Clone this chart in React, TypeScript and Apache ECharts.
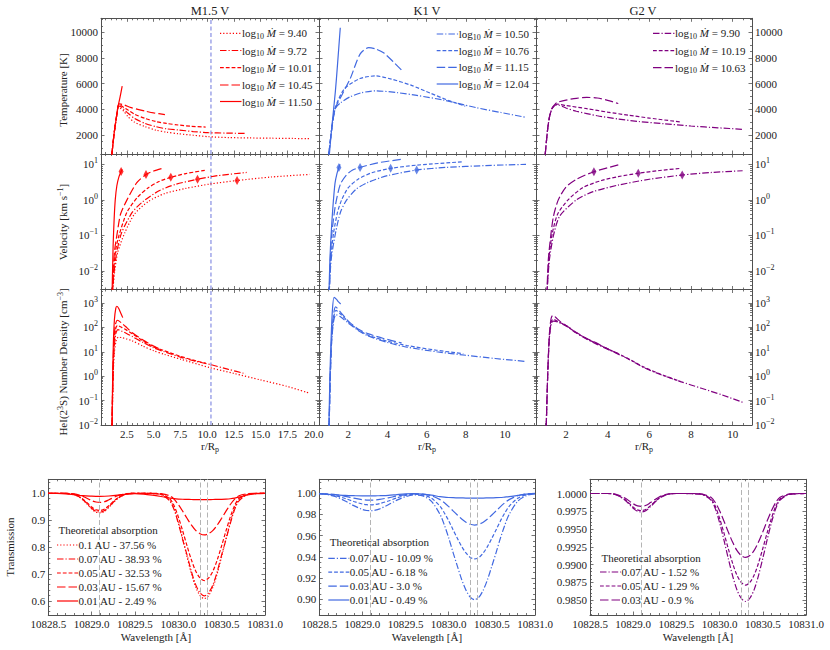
import React, { useEffect, useRef } from "react";
import * as echarts from "echarts";

type Pt = [number, number];

const FONT = "Liberation Serif, DejaVu Serif, serif";
const TXT = "#222222";
const FRAME = "#505050";
const RED = "#ff0000";
const BLUE = "#4169e1";
const PURPLE = "#800080";
const ROCHE_COLOR = "#5560d8";

// ---------- labels / styles ----------
const mLogMdot = ["9.40", "9.72", "10.01", "10.45", "11.50"];
const kLogMdot = ["10.50", "10.76", "11.15", "12.04"];
const gLogMdot = ["9.90", "10.19", "10.63"];
const mStyles = ["dotted", "dashdot", "dashed", "longdash", "solid"];
const kStyles = ["dashdot", "dashed", "longdash", "solid"];
const gStyles = ["dashdot", "dashed", "longdash"];

// ---------- M1.5 V ----------
const tempM940: Pt[] = [[1.08, 450], [1.25, 1800], [1.38, 2650], [1.55, 3600], [1.67, 4200], [1.8, 4150], [2.2, 3850], [2.6, 3420], [3.2, 3000], [4.2, 2650], [5.2, 2380], [6.2, 2220], [7.3, 2100], [8.7, 1980], [10.1, 1870], [12, 1800], [14, 1770], [16, 1750], [18, 1730], [19.6, 1710]];
const tempM972: Pt[] = [[1.08, 450], [1.25, 1800], [1.38, 2650], [1.55, 3600], [1.68, 4250], [1.8, 4250], [2.2, 4000], [2.6, 3700], [3.2, 3300], [4.2, 2900], [5.2, 2650], [6.2, 2480], [7.3, 2390], [8.7, 2270], [10.1, 2180], [11.8, 2150], [13.7, 2120]];
const tempM1001: Pt[] = [[1.08, 450], [1.25, 1800], [1.38, 2650], [1.55, 3600], [1.69, 4300], [1.8, 4330], [2.2, 4150], [2.6, 3940], [3.2, 3620], [4.2, 3290], [5.2, 3050], [6.2, 2900], [7.3, 2780], [8.5, 2680], [9.86, 2620]];
const tempM1045: Pt[] = [[1.08, 450], [1.25, 1800], [1.38, 2650], [1.55, 3600], [1.69, 4330], [1.8, 4420], [2.2, 4350], [2.9, 4130], [3.6, 3980], [4.2, 3860], [5.0, 3720], [6.05, 3590]];
const tempM1150: Pt[] = [[1.08, 450], [1.25, 1800], [1.38, 2650], [1.55, 3600], [1.69, 4330], [1.85, 4950], [2.05, 5800]];

const velM940: Pt[] = [[1.12, 0.002], [1.35, 0.01], [1.65, 0.035], [2.3, 0.12], [3.2, 0.4], [4.5, 0.9], [6.0, 1.5], [8.0, 2.1], [10.3, 2.8], [12.8, 3.5], [16, 4.4], [19.6, 5.2]];
const velM972: Pt[] = [[1.12, 0.002], [1.3, 0.01], [1.55, 0.035], [2.0, 0.12], [3.0, 0.45], [4.0, 0.9], [5.5, 1.8], [7.0, 2.7], [9.1, 3.8], [11, 4.8], [13.7, 5.9]];
const velM1001: Pt[] = [[1.12, 0.002], [1.25, 0.01], [1.45, 0.04], [1.75, 0.1], [2.5, 0.45], [3.5, 1.2], [4.5, 2.2], [5.5, 3.3], [6.6, 4.3], [8.0, 5.5], [9.86, 6.8]];
const velM1045: Pt[] = [[1.12, 0.002], [1.2, 0.01], [1.35, 0.04], [1.55, 0.1], [1.9, 0.4], [2.5, 1.0], [3.4, 3.0], [4.28, 5.2], [5.0, 6.5], [5.75, 7.6]];
const velM1150: Pt[] = [[1.1, 0.002], [1.2, 0.05], [1.3, 0.3], [1.4, 1.0], [1.55, 2.5], [1.75, 4.5], [1.95, 6.3], [2.05, 7.2]];

const densM940: Pt[] = [[1.1, 0.008], [1.19, 0.5], [1.3, 8], [1.5, 30], [1.7, 40], [2, 38], [2.5, 33], [3, 28], [4, 17], [5, 11], [6, 7.8], [7.5, 5], [10.3, 2.2], [12.5, 1.3], [15, 0.7], [17.5, 0.38], [19.6, 0.2]];
const densM972: Pt[] = [[1.1, 0.008], [1.18, 0.5], [1.28, 10], [1.45, 55], [1.65, 80], [2, 70], [2.5, 55], [3, 42], [4, 24], [5, 14.5], [6, 10], [7.5, 6], [9, 4], [10.3, 3], [12, 1.9], [13.6, 1.25]];
const densM1001: Pt[] = [[1.1, 0.008], [1.17, 0.5], [1.27, 12], [1.42, 80], [1.6, 120], [2, 100], [2.5, 75], [3, 55], [4, 28], [5, 16], [6, 11], [7.5, 6.5], [9, 4.2], [9.86, 3.4]];
const densM1045: Pt[] = [[1.1, 0.008], [1.16, 0.5], [1.25, 15], [1.4, 120], [1.6, 195], [2.0, 150], [2.5, 95], [3, 60], [4, 30], [5, 17], [5.75, 12]];
const densM1150: Pt[] = [[1.1, 0.008], [1.15, 0.5], [1.22, 20], [1.32, 200], [1.45, 600], [1.55, 730], [1.7, 620], [1.9, 400], [2.1, 250]];

const sonicM: Pt[] = [[12.8, 3.5], [9.1, 3.8], [6.6, 4.3], [4.28, 5.2], [1.95, 6.3]];
const rocheM = 10.36;

// ---------- K1 V ----------
const tempK1050: Pt[] = [[1.0, 450], [1.1, 1800], [1.2, 3000], [1.35, 4100], [1.6, 4500], [2.1, 4980], [2.7, 5300], [3.4, 5440], [4.5, 5300], [5.5, 5080], [6.86, 4720], [8.56, 4120], [9.8, 3750], [11.08, 3370]];
const tempK1076: Pt[] = [[1.0, 450], [1.1, 1800], [1.2, 3000], [1.35, 4200], [1.8, 5600], [2.6, 6400], [3.4, 6600], [4.2, 6350], [5.2, 5880], [6.2, 5250], [7.1, 4700], [7.97, 4250]];
const tempK1115: Pt[] = [[1.0, 450], [1.1, 1800], [1.2, 3000], [1.34, 4100], [1.7, 5200], [2.1, 6400], [2.6, 8300], [3.04, 8800], [3.4, 8700], [3.8, 8400], [4.3, 7700], [4.72, 7050]];
const tempK1204: Pt[] = [[1.03, 450], [1.15, 2500], [1.34, 5400], [1.45, 7500], [1.59, 10350]];

const velK1050: Pt[] = [[1.02, 0.002], [1.12, 0.02], [1.35, 0.12], [1.6, 0.45], [1.92, 1], [2.4, 2], [3, 3.1], [4, 4.8], [5.49, 6.9], [7, 8.2], [9, 9.2], [11.07, 10]];
const velK1076: Pt[] = [[1.02, 0.002], [1.1, 0.02], [1.25, 0.12], [1.45, 0.45], [1.66, 1], [2, 2.2], [2.5, 3.8], [3.2, 5.8], [4.16, 7.7], [5.5, 9.5], [7.87, 11.8]];
const velK1115: Pt[] = [[1.02, 0.002], [1.08, 0.02], [1.15, 0.1], [1.3, 0.5], [1.41, 1.1], [1.6, 2.8], [1.9, 5], [2.2, 6.8], [2.6, 8.2], [3.5, 11], [4.72, 13.8]];
const velK1204: Pt[] = [[1.01, 0.002], [1.06, 0.02], [1.12, 0.1], [1.2, 0.5], [1.32, 2.9], [1.42, 5.5], [1.52, 8.2], [1.58, 10]];

const densK1050: Pt[] = [[1.02, 0.008], [1.08, 1], [1.15, 25], [1.25, 180], [1.37, 330], [1.6, 270], [2, 150], [2.5, 75], [3, 45], [4, 24], [5, 15.5], [6.5, 10], [8, 7.2], [9.5, 5.3], [11.07, 4]];
const densK1076: Pt[] = [[1.02, 0.008], [1.08, 1], [1.15, 30], [1.25, 250], [1.37, 500], [1.6, 350], [2, 170], [2.5, 80], [3, 48], [4, 27], [5, 18], [6.5, 11.5], [7.87, 8.3]];
const densK1115: Pt[] = [[1.02, 0.008], [1.08, 1], [1.15, 40], [1.25, 350], [1.35, 690], [1.6, 420], [2.0, 180], [2.5, 85], [3, 55], [3.8, 35], [4.72, 23]];
const densK1204: Pt[] = [[1.01, 0.008], [1.06, 1], [1.12, 30], [1.18, 400], [1.27, 1700], [1.4, 1400], [1.5, 1100], [1.61, 900]];

const sonicK: Pt[] = [[5.49, 6.9], [4.16, 7.7], [2.6, 8.2], [1.52, 8.2]];

// ---------- G2 V ----------
const tempG990: Pt[] = [[1.0, 450], [1.06, 1500], [1.13, 2600], [1.22, 3500], [1.33, 4050], [1.5, 4330], [1.6, 4350], [2, 4100], [2.5, 3850], [3.5, 3500], [4.5, 3250], [5.5, 3050], [6.7, 2880], [8, 2700], [9.3, 2560], [10.5, 2440]];
const tempG1019: Pt[] = [[1.0, 450], [1.06, 1500], [1.13, 2600], [1.22, 3500], [1.33, 4050], [1.5, 4380], [1.6, 4400], [2, 4300], [3, 4050], [4, 3780], [5, 3540], [6, 3320], [7.5, 3010]];
const tempG1063: Pt[] = [[1.0, 450], [1.06, 1500], [1.13, 2600], [1.22, 3500], [1.33, 4100], [1.5, 4450], [1.6, 4550], [2.0, 4720], [2.5, 4860], [3.0, 4930], [3.5, 4880], [4.0, 4700], [4.51, 4450]];

const velG990: Pt[] = [[1.08, 0.002], [1.2, 0.02], [1.4, 0.1], [1.7, 0.35], [2.5, 1], [3.3, 1.7], [4.5, 2.6], [6, 3.8], [7.58, 5.0], [9, 5.9], [10.48, 6.6]];
const velG1019: Pt[] = [[1.08, 0.002], [1.2, 0.03], [1.35, 0.12], [1.6, 0.4], [2.1, 1], [2.8, 2.2], [3.7, 3.5], [4.5, 4.5], [5.47, 5.6], [6.5, 6.7], [7.5, 7.7]];
const velG1063: Pt[] = [[1.08, 0.002], [1.15, 0.02], [1.27, 0.1], [1.4, 0.35], [1.63, 1], [2, 2.3], [2.5, 3.8], [3.34, 6.2], [4.51, 9.6]];

const densG990: Pt[] = [[1.05, 0.008], [1.12, 1], [1.2, 35], [1.3, 150], [1.4, 180], [1.6, 165], [2, 115], [2.5, 58], [3, 33], [3.5, 20], [4.11, 11.5], [5, 5], [5.71, 2.3], [6.5, 1.2], [7.5, 0.6], [8.5, 0.32], [9.5, 0.17], [10.48, 0.085]];
const densG1019: Pt[] = [[1.05, 0.008], [1.12, 1], [1.2, 40], [1.3, 180], [1.4, 210], [1.6, 175], [2, 118], [2.5, 60], [3, 34], [3.5, 21], [4.11, 12], [5, 5.2], [5.71, 2.4], [6.5, 1.25], [7.5, 0.6]];
const densG1063: Pt[] = [[1.05, 0.008], [1.12, 1], [1.2, 50], [1.28, 220], [1.36, 310], [1.5, 260], [1.7, 180], [2, 120], [2.5, 62], [3, 35], [3.5, 22], [4, 13], [4.51, 8.5]];

const sonicG: Pt[] = [[7.58, 5.0], [5.47, 5.6], [3.34, 6.2]];

// ---------- transmission spectra ----------
const wl = [10828.5, 10828.6, 10828.7, 10828.8, 10828.9, 10829.0, 10829.05, 10829.1, 10829.15, 10829.2, 10829.3, 10829.4, 10829.5, 10829.6, 10829.7, 10829.8, 10829.9, 10829.95, 10830.0, 10830.05, 10830.1, 10830.15, 10830.2, 10830.25, 10830.3, 10830.35, 10830.4, 10830.45, 10830.5, 10830.55, 10830.6, 10830.65, 10830.7, 10830.8, 10830.9, 10831.0];
const heLines = [10829.09, 10830.25, 10830.33];

const trM010 = [1.0, 1.0, 0.9995, 0.9953, 0.9752, 0.9416, 0.9299, 0.9271, 0.9328, 0.9482, 0.9803, 0.9971, 0.9997, 1.0, 0.9992, 0.9961, 0.9765, 0.9451, 0.8942, 0.8314, 0.7648, 0.7021, 0.6511, 0.6198, 0.608, 0.6198, 0.6511, 0.7021, 0.7648, 0.8314, 0.8942, 0.9451, 0.9765, 0.9961, 0.9992, 1.0];
const trM007 = [1.0, 1.0, 0.9995, 0.9955, 0.9762, 0.944, 0.9328, 0.9301, 0.9356, 0.9503, 0.9811, 0.9972, 0.9997, 1.0, 0.999, 0.9955, 0.972, 0.94, 0.888, 0.828, 0.7708, 0.7097, 0.66, 0.6295, 0.618, 0.6295, 0.66, 0.7097, 0.7708, 0.828, 0.888, 0.94, 0.972, 0.9955, 0.999, 1.0];
const trM005 = [1.0, 1.0, 0.9996, 0.9958, 0.9782, 0.9488, 0.9386, 0.9361, 0.9411, 0.9546, 0.9827, 0.9974, 0.9997, 1.0, 0.9994, 0.9968, 0.9805, 0.9545, 0.9123, 0.8603, 0.805, 0.753, 0.7108, 0.6848, 0.675, 0.6848, 0.7108, 0.753, 0.805, 0.8603, 0.9123, 0.9545, 0.9805, 0.9968, 0.9994, 1.0];
const trM003 = [1.0, 1.0, 0.9998, 0.9978, 0.9884, 0.9728, 0.9674, 0.9661, 0.9687, 0.9759, 0.9908, 0.9986, 0.9999, 1.0, 0.9997, 0.9985, 0.9907, 0.9783, 0.9582, 0.9334, 0.907, 0.8822, 0.862, 0.8497, 0.845, 0.8497, 0.862, 0.8822, 0.907, 0.9334, 0.9582, 0.9783, 0.9907, 0.9985, 0.9997, 1.0];
const trM001 = [1.0, 0.9995, 0.998, 0.9945, 0.991, 0.9893, 0.9888, 0.9887, 0.989, 0.9898, 0.993, 0.997, 0.999, 0.997, 0.993, 0.988, 0.9825, 0.98, 0.9785, 0.9777, 0.9772, 0.9768, 0.9766, 0.9765, 0.9765, 0.9766, 0.9768, 0.9771, 0.9776, 0.9784, 0.9797, 0.982, 0.9855, 0.9935, 0.9985, 0.9998];

const trK007 = [0.9996, 0.9986, 0.9965, 0.9927, 0.9883, 0.9847, 0.9837, 0.9835, 0.984, 0.9853, 0.9891, 0.9935, 0.9968, 0.9984, 0.9975, 0.9924, 0.9799, 0.9699, 0.9578, 0.9442, 0.9312, 0.9186, 0.9085, 0.9018, 0.8995, 0.9018, 0.9085, 0.9186, 0.9312, 0.9442, 0.9578, 0.9699, 0.9799, 0.9925, 0.9978, 0.9995];
const trK005 = [0.9997, 0.9991, 0.9976, 0.9951, 0.9922, 0.9898, 0.9892, 0.989, 0.9894, 0.9902, 0.9927, 0.9957, 0.9979, 0.999, 0.9984, 0.9953, 0.9876, 0.9814, 0.974, 0.9656, 0.9575, 0.9498, 0.9436, 0.9394, 0.938, 0.9394, 0.9436, 0.9498, 0.9575, 0.9656, 0.974, 0.9814, 0.9876, 0.9953, 0.9986, 0.9997];
const trK003 = [0.9998, 0.9994, 0.9986, 0.9971, 0.9954, 0.994, 0.9936, 0.9935, 0.9937, 0.9942, 0.9957, 0.9974, 0.9988, 0.9994, 0.9992, 0.9977, 0.994, 0.991, 0.9874, 0.9834, 0.9795, 0.9757, 0.9727, 0.9707, 0.97, 0.9707, 0.9727, 0.9757, 0.9795, 0.9834, 0.9874, 0.991, 0.994, 0.9977, 0.9993, 0.9999];
const trK001 = [0.9995, 0.999, 0.9985, 0.998, 0.9977, 0.9975, 0.9975, 0.9975, 0.9976, 0.9977, 0.998, 0.9988, 0.9995, 0.9997, 0.9992, 0.9982, 0.9968, 0.9963, 0.996, 0.9958, 0.9957, 0.9956, 0.9955, 0.9955, 0.9955, 0.9955, 0.9955, 0.9956, 0.9957, 0.9958, 0.996, 0.9964, 0.9968, 0.998, 0.9992, 0.9998];

const trG007 = [1.0, 1.0, 1.0, 0.99983, 0.99912, 0.99792, 0.9975, 0.99741, 0.99761, 0.99815, 0.9993, 0.9999, 1.0, 1.0, 0.99997, 0.99985, 0.99909, 0.99787, 0.9959, 0.99346, 0.99088, 0.98845, 0.98647, 0.98526, 0.9848, 0.98526, 0.98647, 0.98845, 0.99088, 0.99346, 0.9959, 0.99787, 0.99909, 0.99985, 0.99997, 1.0];
const trG005 = [1.0, 1.0, 1.0, 0.99984, 0.99918, 0.99808, 0.9977, 0.9976, 0.99779, 0.9983, 0.99935, 0.9999, 1.0, 1.0, 0.99997, 0.99987, 0.99923, 0.9982, 0.99652, 0.99445, 0.99226, 0.9902, 0.98852, 0.98749, 0.9871, 0.98749, 0.98852, 0.9902, 0.99226, 0.99445, 0.99652, 0.9982, 0.99923, 0.99987, 0.99997, 1.0];
const trG003 = [1.0, 1.0, 1.0, 0.99988, 0.99939, 0.99856, 0.99827, 0.9982, 0.99834, 0.99872, 0.99951, 0.99993, 1.0, 1.0, 1.0, 0.99991, 0.99946, 0.99874, 0.99757, 0.99613, 0.9946, 0.99316, 0.99199, 0.99127, 0.991, 0.99127, 0.99199, 0.99316, 0.9946, 0.99613, 0.99757, 0.99874, 0.99946, 0.99991, 1.0, 1.0];

const auM = ["0.1", "0.07", "0.05", "0.03", "0.01"];
const absM = ["37.56", "38.93", "32.53", "15.67", "2.49"];
const auK = ["0.07", "0.05", "0.03", "0.01"];
const absK = ["10.09", "6.18", "3.0", "0.49"];
const auG = ["0.07", "0.05", "0.03"];
const absG = ["1.52", "1.29", "0.9"];

// ---------- helpers ----------
const DASH: Record<string, any> = {
  solid: "solid",
  dotted: [1.2, 2],
  dashdot: [6.5, 2, 1.2, 2],
  dashed: [3.8, 2],
  longdash: [8.5, 3],
};

const range = (a: number, b: number, s: number) => {
  const n = Math.round((b - a) / s);
  return Array.from({ length: n + 1 }, (_, i) => +(a + i * s).toFixed(8));
};
const minorOf = (all: number[], maj: number[]) => all.filter((v) => !maj.some((m) => Math.abs(m - v) < 1e-7));
const within = (arr: number[], lo: number, hi: number) => arr.filter((v) => v >= lo - 1e-9 && v <= hi + 1e-9);
const logMinors = (lo: number, hi: number) => {
  const out: number[] = [];
  for (let n = -4; n <= 4; n++) for (let k = 2; k <= 9; k++) out.push(n + Math.log10(k));
  return within(out, lo, hi);
};

function buildOption() {
  const o: any = { animation: false, tooltip: { show: false }, grid: [], xAxis: [], yAxis: [], series: [], graphic: [] };

  const logRich = {
    b: { fontFamily: FONT, fontSize: 11, color: TXT, lineHeight: 15 },
    s: { fontFamily: FONT, fontSize: 8, color: TXT, lineHeight: 8, verticalAlign: "top" },
  };
  const logFmt = (v: number) => {
    const r = Math.round(v);
    return `{b|10}{s|${r < 0 ? "\u2212" + Math.abs(r) : String(r)}}`;
  };

  const mkLabel = (fmt: any, rich: any, margin: number, vals: number[]) => ({
    show: true,
    customValues: vals,
    formatter: fmt,
    rich,
    fontFamily: FONT,
    fontSize: 11,
    color: TXT,
    margin,
  });

  function addPanel(p: any) {
    const gi = o.grid.length;
    o.grid.push({ left: p.left, top: p.top, width: p.width, height: p.height, containLabel: false, outerBoundsMode: "none", show: false });
    const ax = (pos: string, min: number, max: number, ticks: number[], len: number, line: boolean, label: any) => ({
      type: "value",
      gridIndex: gi,
      position: pos,
      min,
      max,
      silent: true,
      axisLine: { show: line, onZero: false, lineStyle: { color: FRAME, width: 1 } },
      axisTick: { show: true, inside: true, length: len, customValues: ticks, lineStyle: { color: FRAME, width: 0.8 } },
      axisLabel: label || { show: false },
      splitLine: { show: false },
      splitArea: { show: false },
      axisPointer: { show: false },
    });
    const xMaj = within(p.xMaj, p.xmin, p.xmax);
    const xMin = within(p.xMin, p.xmin, p.xmax);
    const yMaj = within(p.yMaj, p.ymin, p.ymax);
    const yMin = within(p.yMin, p.ymin, p.ymax);
    const xi = o.xAxis.length;
    o.xAxis.push(ax("bottom", p.xmin, p.xmax, xMaj, 3.5, true, p.xFmt ? mkLabel(p.xFmt, undefined, 3, xMaj) : null));
    o.xAxis.push(ax("bottom", p.xmin, p.xmax, xMin, 2, false, null));
    o.xAxis.push(ax("top", p.xmin, p.xmax, xMaj, 3.5, true, null));
    o.xAxis.push(ax("top", p.xmin, p.xmax, xMin, 2, false, null));
    const yi = o.yAxis.length;
    o.yAxis.push(ax("left", p.ymin, p.ymax, yMaj, 3.5, true, p.ySide === "left" ? mkLabel(p.yFmt, p.yRich, 3, yMaj) : null));
    o.yAxis.push(ax("left", p.ymin, p.ymax, yMin, 2, false, null));
    o.yAxis.push(ax("right", p.ymin, p.ymax, yMaj, 3.5, true, p.ySide === "right" ? mkLabel(p.yFmt, p.yRich, 3, yMaj) : null));
    o.yAxis.push(ax("right", p.ymin, p.ymax, yMin, 2, false, null));
    return { xi, yi };
  }

  const lineSeries = (name: string, data: number[][], color: string, sty: string, xi: number, yi: number) => ({
    type: "line",
    name,
    xAxisIndex: xi,
    yAxisIndex: yi,
    data,
    symbol: "none",
    showSymbol: false,
    smooth: 0.25,
    clip: true,
    silent: true,
    z: 3,
    lineStyle: { color, width: 1.2, type: DASH[sty], cap: "butt" },
    itemStyle: { color },
    emphasis: { disabled: true },
  });

  // ---- top grid ----
  const topCols = [
    { left: 101, width: 218, xmin: 0.067, xmax: 20.47, xMaj: range(2.5, 20, 2.5), xFmt: (v: number) => v.toFixed(1), ySide: "left" },
    { left: 319, width: 217, xmin: 0.504, xmax: 11.58, xMaj: [2, 4, 6, 8, 10], xFmt: (v: number) => String(Math.round(v)), ySide: "none" },
    { left: 536, width: 216, xmin: 0.56, xmax: 10.93, xMaj: [2, 4, 6, 8, 10], xFmt: (v: number) => String(Math.round(v)), ySide: "right" },
  ];
  const tempMaj = [2000, 4000, 6000, 8000, 10000];
  const topRows = [
    { top: 18.3, height: 135.7, ymin: 520, ymax: 11090, yMaj: tempMaj, yMin: minorOf(range(500, 11000, 500), tempMaj), yFmt: (v: number) => String(Math.round(v)), yRich: undefined, log: false },
    { top: 154, height: 135.5, ymin: -2.52, ymax: 1.29, yMaj: [-2, -1, 0, 1], yMin: logMinors(-2.52, 1.29), yFmt: logFmt, yRich: logRich, log: true },
    { top: 289.5, height: 135.5, ymin: -2, ymax: 3.55, yMaj: [-2, -1, 0, 1, 2, 3], yMin: logMinors(-2, 3.55), yFmt: logFmt, yRich: logRich, log: true },
  ];
  const groups = [
    { labels: mLogMdot, styles: mStyles, color: RED, rows: [[tempM940, tempM972, tempM1001, tempM1045, tempM1150], [velM940, velM972, velM1001, velM1045, velM1150], [densM940, densM972, densM1001, densM1045, densM1150]], sonic: sonicM },
    { labels: kLogMdot, styles: kStyles, color: BLUE, rows: [[tempK1050, tempK1076, tempK1115, tempK1204], [velK1050, velK1076, velK1115, velK1204], [densK1050, densK1076, densK1115, densK1204]], sonic: sonicK },
    { labels: gLogMdot, styles: gStyles, color: PURPLE, rows: [[tempG990, tempG1019, tempG1063], [velG990, velG1019, velG1063], [densG990, densG1019, densG1063]], sonic: sonicG },
  ];

  groups.forEach((g, c) => {
    const col = topCols[c];
    topRows.forEach((r, ri) => {
      const { xi, yi } = addPanel({
        left: col.left, width: col.width, top: r.top, height: r.height,
        xmin: col.xmin, xmax: col.xmax, xMaj: col.xMaj, xMin: minorOf(range(0.5, 20.5, 0.5), col.xMaj),
        xFmt: ri === 2 ? col.xFmt : null,
        ymin: r.ymin, ymax: r.ymax, yMaj: r.yMaj, yMin: r.yMin, yFmt: r.yFmt, yRich: r.yRich, ySide: col.ySide,
      });
      g.rows[ri].forEach((pts, k) => {
        const data = pts.map(([x, y]) => [x, r.log ? Math.log10(y) : y]);
        o.series.push(lineSeries("log10 Mdot = " + g.labels[k], data, g.color, g.styles[k], xi, yi));
      });
      if (c === 0) {
        // Roche-lobe marker: vertical dashed line spanning the panel
        o.series.push({
          type: "line", name: "roche", xAxisIndex: xi, yAxisIndex: yi, silent: true, z: 2,
          symbol: "none", showSymbol: false, clip: true,
          lineStyle: { color: ROCHE_COLOR, width: 1, type: [4, 2.5], opacity: 0.85 },
          data: [[rocheM, r.ymin], [rocheM, r.ymax]],
          emphasis: { disabled: true },
        });
      }
      if (ri === 1) {
        o.series.push({
          type: "scatter", xAxisIndex: xi, yAxisIndex: yi, silent: true, z: 4,
          symbol: "diamond", symbolSize: [5, 9], itemStyle: { color: g.color },
          data: g.sonic.map(([x, y]) => [x, Math.log10(y)]),
        });
      }
    });
  });

  // ---- bottom grid ----
  const botX = range(10828.5, 10831, 0.5);
  const botXMin = minorOf(range(10828.5, 10831, 0.1), botX);
  const botCols = [
    { left: 48.3, width: 216.7, ymin: 0.547, ymax: 1.052, yMaj: range(0.6, 1.0, 0.1), yStep: 0.02, yFrom: 0.56, yTo: 1.04, yFmt: (v: number) => v.toFixed(1) },
    { left: 319.3, width: 215.7, ymin: 0.885, ymax: 1.0132, yMaj: range(0.9, 1.0, 0.02), yStep: 0.005, yFrom: 0.885, yTo: 1.01, yFmt: (v: number) => v.toFixed(2) },
    { left: 590, width: 216, ymin: 0.9829, ymax: 1.002, yMaj: range(0.985, 1.0, 0.0025), yStep: 0.0005, yFrom: 0.983, yTo: 1.002, yFmt: (v: number) => v.toFixed(4) },
  ];
  const botGroups = [
    { color: RED, styles: mStyles, curves: [trM010, trM007, trM005, trM003, trM001], au: auM, abs: absM },
    { color: BLUE, styles: kStyles, curves: [trK007, trK005, trK003, trK001], au: auK, abs: absK },
    { color: PURPLE, styles: gStyles, curves: [trG007, trG005, trG003], au: auG, abs: absG },
  ];
  botGroups.forEach((g, c) => {
    const col = botCols[c];
    const { xi, yi } = addPanel({
      left: col.left, width: col.width, top: 479.3, height: 135.7,
      xmin: 10828.5, xmax: 10831.0, xMaj: botX, xMin: botXMin, xFmt: (v: number) => v.toFixed(1),
      ymin: col.ymin, ymax: col.ymax, yMaj: col.yMaj, yMin: minorOf(range(col.yFrom, col.yTo, col.yStep), col.yMaj), yFmt: col.yFmt, ySide: "left",
    });
    g.curves.forEach((vals, k) => {
      const s: any = lineSeries(g.au[k] + " AU", wl.map((w, i) => [w, vals[i]]), g.color, g.styles[k], xi, yi);
      s.smooth = 0.3;
      s.z = 3 + (g.curves.length - k) * 0.01;
      if (k === 0) {
        s.markLine = {
          silent: true, symbol: ["none", "none"], label: { show: false }, animation: false,
          lineStyle: { color: "#b4b4b4", type: [5, 2.5], width: 1 },
          emphasis: { disabled: true },
          data: heLines.map((x) => ({ xAxis: x })),
        };
      }
      o.series.push(s);
    });
  });

  // ---- graphic texts / legends ----
  const G: any[] = o.graphic;
  const baseRich = {
    n: { fontFamily: FONT, fontSize: 11, fill: TXT, lineHeight: 14 },
    s: { fontFamily: FONT, fontSize: 8, fill: TXT, lineHeight: 8, verticalAlign: "top" },
    u: { fontFamily: FONT, fontSize: 8, fill: TXT, lineHeight: 8, verticalAlign: "bottom" },
    m: { fontFamily: FONT, fontSize: 11, fill: TXT, lineHeight: 14, fontStyle: "italic" },
    t: { fontFamily: FONT, fontSize: 12.5, fill: TXT, lineHeight: 15 },
  };
  const text = (x: number, y: number, t: string, extra: any = {}) =>
    G.push({
      type: "text", x, y, silent: true, rotation: extra.rotation || 0, z: 100,
      style: { text: t, rich: baseRich, fill: TXT, fontFamily: FONT, fontSize: extra.fontSize || 11, align: extra.align || "center", verticalAlign: "middle" },
    });
  const legLine = (x1: number, x2: number, y: number, color: string, sty: string) =>
    G.push({
      type: "line", silent: true, z: 100,
      shape: { x1, y1: y, x2, y2: y },
      style: { stroke: color, lineWidth: 1.2, lineDash: sty === "solid" ? null : DASH[sty], lineCap: "butt" },
    });

  // titles
  text(210, 10.5, "{t|M1.5 V}");
  text(427, 10.5, "{t|K1 V}");
  text(643, 10.5, "{t|G2 V}");
  // y labels
  text(63, 90, "{n|Temperature [K]}", { rotation: Math.PI / 2 });
  text(63, 222, "{n|Velocity [km s}{s|\u22121}{n|]}", { rotation: Math.PI / 2 });
  text(63, 362, "{n|HeI(2}{s|3}{n|S) Number Density [cm}{s|\u22123}{n|]}", { rotation: Math.PI / 2 });
  text(10, 547, "{n|Transmission}", { rotation: Math.PI / 2 });
  // x labels
  [210, 427, 644].forEach((x) => text(x, 446, "{n|r/R}{u|p}"));
  [156, 427, 698].forEach((x) => text(x, 637, "{n|Wavelength [\u00c5]}"));

  // top legends
  const topLeg = [
    { x1: 220, rows: [33.3, 50.5, 67.7, 85, 101.5] },
    { x1: 436.7, rows: [34, 50.7, 67.3, 84] },
    { x1: 653, rows: [33.3, 50.7, 67.7] },
  ];
  groups.forEach((g, c) => {
    const L = topLeg[c];
    g.labels.forEach((lab, k) => {
      legLine(L.x1, L.x1 + 21.5, L.rows[k], g.color, g.styles[k]);
      text(L.x1 + 22, L.rows[k], `{n|log}{u|10}{m| \u1e40}{n| = ${lab}}`, { align: "left" });
    });
  });
  // bottom legends
  const botLeg = [
    { x1: 57, title: 530, rows: [545, 559, 573, 587, 601] },
    { x1: 328.3, title: 542, rows: [558.3, 572.2, 586.1, 600] },
    { x1: 600, title: 558, rows: [572, 586, 600] },
  ];
  botGroups.forEach((g, c) => {
    const L = botLeg[c];
    text(L.x1 + 1.5, L.title, "{n|Theoretical absorption}", { align: "left" });
    g.au.forEach((au, k) => {
      legLine(L.x1, L.x1 + 21, L.rows[k], g.color, g.styles[k]);
      text(L.x1 + 21.5, L.rows[k], `{n|${au} AU - ${g.abs[k]} %}`, { align: "left" });
    });
  });

  return o;
}

export default function App() {
  const ref = useRef<HTMLDivElement>(null);
  useEffect(() => {
    document.body.style.margin = "0";
    const chart = echarts.init(ref.current as HTMLDivElement, null, { renderer: "svg" });
    chart.setOption(buildOption());
    return () => chart.dispose();
  }, []);
  return <div ref={ref} style={{ width: 830, height: 650, background: "#ffffff" }} />;
}
